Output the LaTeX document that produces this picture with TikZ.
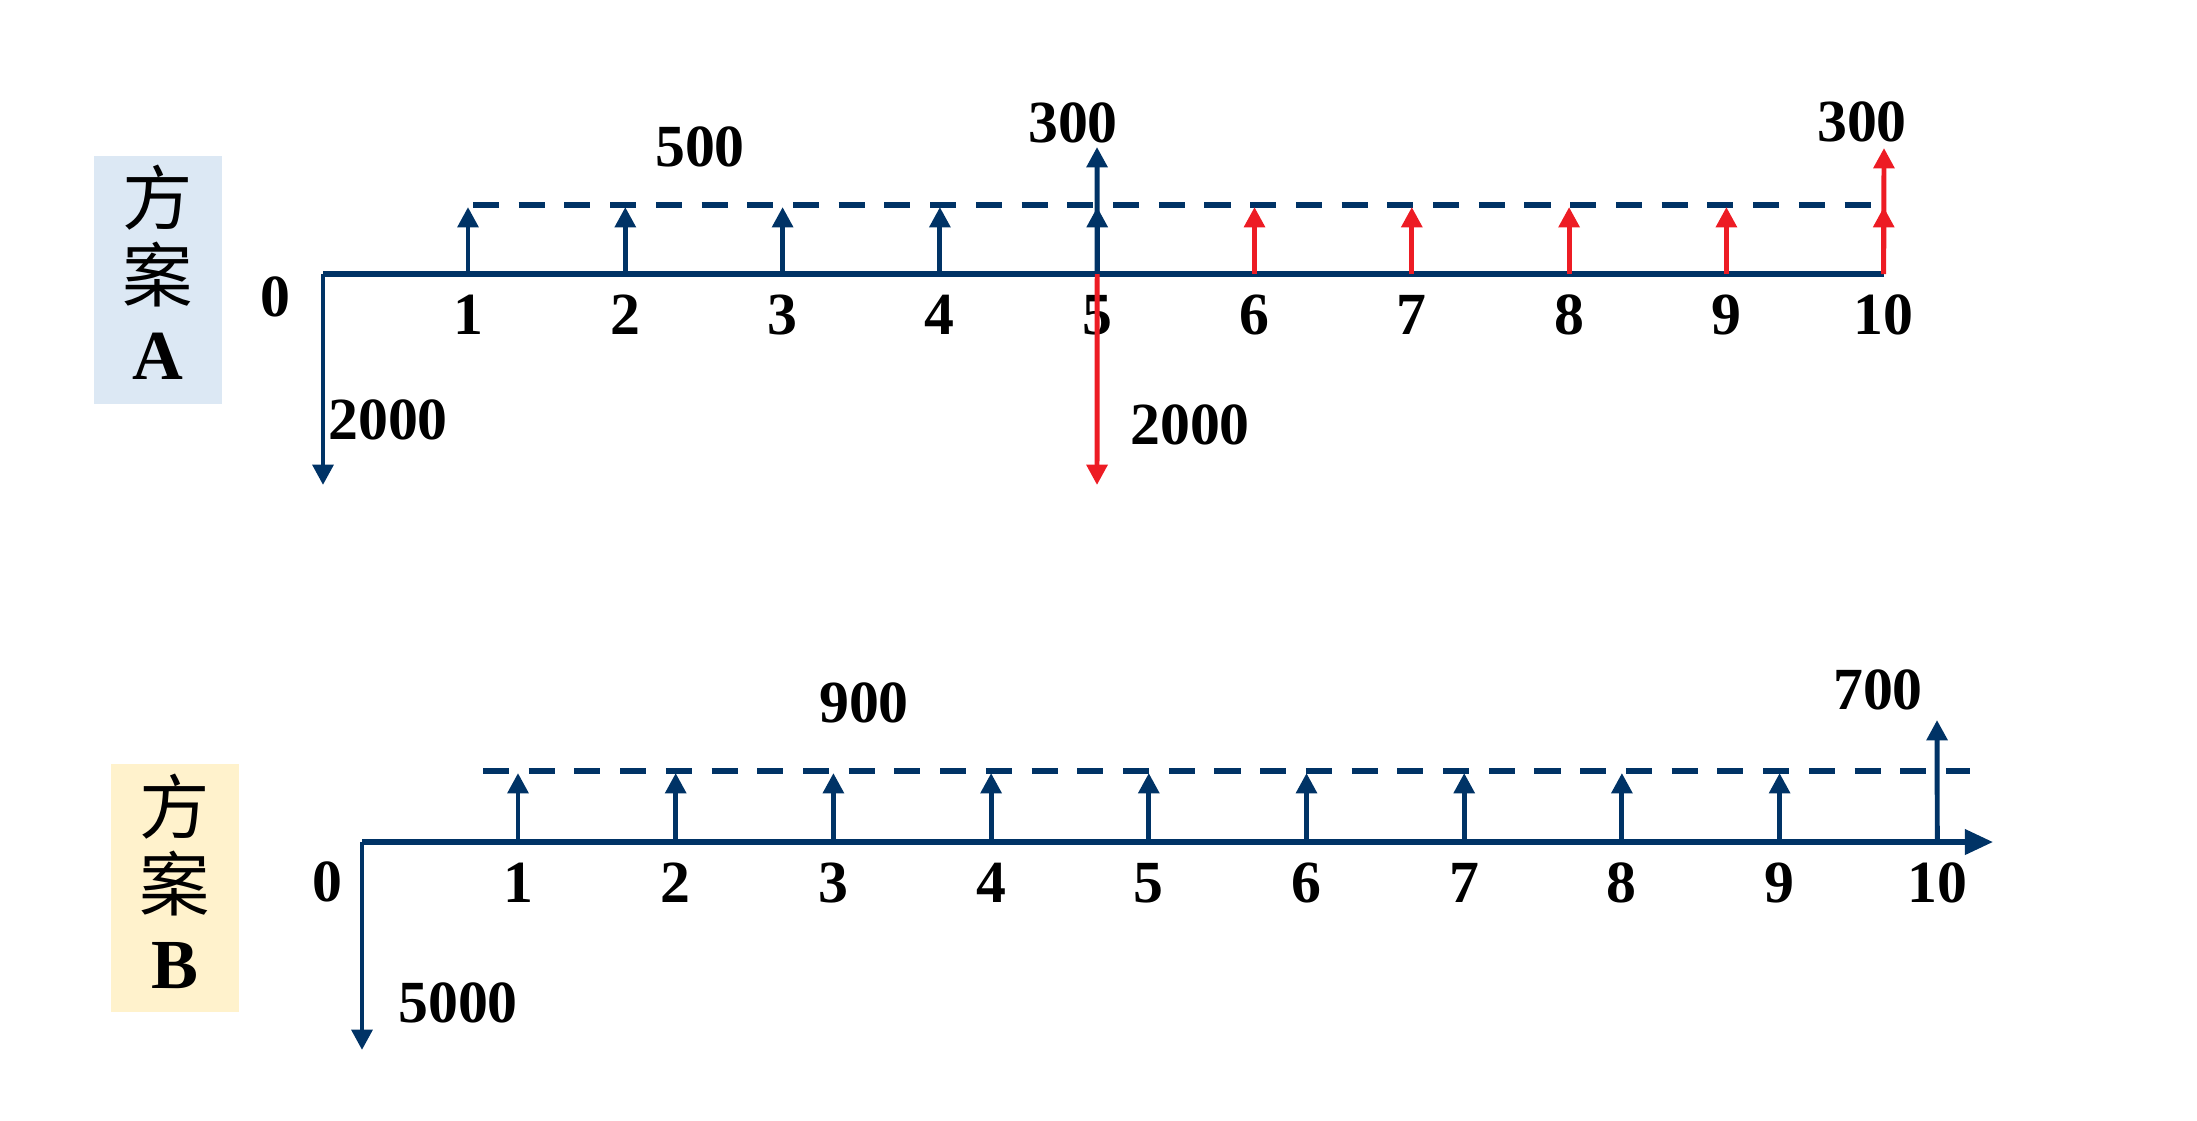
\documentclass[tikz,border=0pt]{standalone}
\usepackage{fontspec}
\setmainfont{Liberation Serif}
\newfontfamily\cjk{Noto Sans CJK SC}
\usetikzlibrary{arrows.meta,positioning}
\definecolor{cfnavy}{RGB}{0,51,102}
\definecolor{cfred}{RGB}{237,28,36}
\definecolor{cfblue}{RGB}{220,232,244}
\definecolor{cfyellow}{RGB}{255,242,204}

\begin{document}
\begin{tikzpicture}[x=0.01cm,y=-0.01cm,
    axis/.style={cfnavy,line width=1.5pt},
    flow/.style={cfnavy,line width=1.4pt,-{Triangle[length=5.8pt,width=5.8pt]}},
    redflow/.style={flow,cfred},
    level/.style={cfnavy,line width=1.7pt,dash pattern=on 7.4pt off 5.6pt},
    num/.style={font=\bfseries\fontsize{17}{17}\selectfont,inner sep=0pt},
    tag/.style={font=\fontsize{20}{22}\selectfont,align=center,inner sep=0pt,minimum width=1.28cm,minimum height=2.48cm}]
  \useasboundingbox (0,0) rectangle (2197,1120);
  % plan A
  \node[tag,fill=cfblue] (tagA) at (158,280) {};
  \node[font=\fontsize{20}{22}\selectfont,align=center,inner sep=0pt] (txtA) at (158,272) {{\cjk 方}\\{\cjk 案}\\\textbf{A}};
  \coordinate (oA) at (323,274);
  \coordinate (eA) at (1884,274);
  \coordinate (dA) at (323,485);
  \node[num] (zA) at (275,297) {0};
  \foreach \i [evaluate=\i as \xa using 468+(\i-1)*157.3] in {1,...,10} {
    \coordinate (a\i) at (\xa,274);
    \coordinate (ta\i) at (\xa,207);
    \node[num] (la\i) at (\xa,315) {\i};
  }
  \coordinate (dsA) at (473,205);
  \coordinate (deA) at (1879,205);
  \coordinate (up5) at (1097,147);
  \coordinate (dn5) at (1097,485);
  \coordinate (up10) at (1884,148);
  \draw[level] (dsA) -- (deA);
  \draw[axis] (oA) -- (eA);
  \draw[flow] (oA) -- (dA);
  \foreach \i in {1,...,4} \draw[flow] (a\i) -- (ta\i);
  \draw[flow] (a5) -- (up5);
  \draw[flow] (a5) -- (ta5);
  \foreach \i in {6,...,10} \draw[redflow] (a\i) -- (ta\i);
  \draw[redflow] (a10) -- (up10);
  \draw[redflow] (a5) -- (dn5);
  \node[num] (vA) at (700,147) {500};
  \node[num] (pA5) at (1073,123) {300};
  \node[num] (pA10) at (1862,122) {300};
  \node[num] (cA0) at (388,420) {2000};
  \node[num] (cA5) at (1190,425) {2000};
  % plan B
  \node[tag,fill=cfyellow] (tagB) at (175,888) {};
  \node[font=\fontsize{20}{22}\selectfont,align=center,inner sep=0pt] (txtB) at (175,881) {{\cjk 方}\\{\cjk 案}\\\textbf{B}};
  \coordinate (oB) at (362,842);
  \coordinate (eB) at (1993,842);
  \coordinate (dB) at (362,1050);
  \node[num] (zB) at (327,882) {0};
  \foreach \i [evaluate=\i as \xb using 518+(\i-1)*157.7] in {1,...,10} {
    \coordinate (b\i) at (\xb,842);
    \coordinate (tb\i) at (\xb,773);
    \node[num] (lb\i) at (\xb,883) {\i};
  }
  \coordinate (dsB) at (483,771);
  \coordinate (deB) at (1970,771);
  \coordinate (up10B) at (1937,720);
  \draw[level] (dsB) -- (deB);
  \draw[axis,-{Triangle[length=8pt,width=7pt]}] (oB) -- (eB);
  \draw[flow] (oB) -- (dB);
  \foreach \i in {1,...,9} \draw[flow] (b\i) -- (tb\i);
  \draw[flow] (b10) -- (up10B);
  \node[num] (vB) at (864,703) {900};
  \node[num] (pB10) at (1878,690) {700};
  \node[num] (cB0) at (458,1003) {5000};
\end{tikzpicture}
\end{document}
